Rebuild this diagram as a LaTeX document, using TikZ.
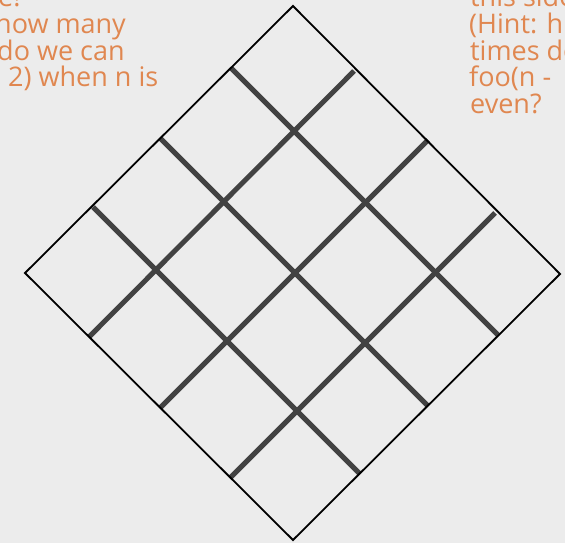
\documentclass[tikz,border=0pt]{standalone}
\usepackage{fontspec}
\setmainfont{Open Sans}
\usepackage{xcolor}
\usetikzlibrary{positioning}

\definecolor{hintorange}{RGB}{224,135,80}
\definecolor{paper}{RGB}{236,236,236}
\definecolor{gridgray}{RGB}{66,66,66}

\begin{document}
\begin{tikzpicture}[
    x=1pt, y=-1pt,
    hint/.style={
        text=hintorange,
        font=\fontsize{27}{26.5}\selectfont,
        anchor=base west,
        inner sep=0pt
    },
    edge/.style={draw=black, line width=1.8pt, line join=miter},
    cut/.style={draw=gridgray, line width=5pt}
]

\useasboundingbox (0,0) rectangle (565,543);
\fill[paper] (0,0) rectangle (565,543);
\clip (0,0) rectangle (565,543);

% hint text on the left, cut by the page
\node[hint] (lefta) at (-2,7) {e!};
\node[hint] (leftb) at (-5,34) {how many};
\node[hint] (leftc) at (-3,60.5) {do we can};
\node[hint] (leftd) at (8,87) {2) when n is};

% hint text on the right, cut by the page
\node[hint] (righta) at (470,7) {this side};
\node[hint] (rightb) at (469,34) {(Hint: h};
\node[hint] (rightc) at (470,60.5) {times do};
\node[hint] (rightd) at (469,87) {foo(n -};
\node[hint] (righte) at (470,113.5) {even?};

% outer square
\coordinate (top) at (293,6);
\coordinate (left) at (25,273);
\coordinate (bottom) at (293,540);
\coordinate (right) at (560,274);

% grid ends on the four sides
\coordinate (nw1) at (231,68);
\coordinate (nw2) at (160,138);
\coordinate (nw3) at (93,207);
\coordinate (se1) at (498,335);
\coordinate (se2) at (428,406);
\coordinate (se3) at (360,474);
\coordinate (sw1) at (89,337);
\coordinate (sw2) at (160,408);
\coordinate (sw3) at (230,478);
\coordinate (ne1) at (354,71);
\coordinate (ne2) at (428,140);
\coordinate (ne3) at (495,213);

\draw[cut] (nw1) -- (se1);
\draw[cut] (nw2) -- (se2);
\draw[cut] (nw3) -- (se3);
\draw[cut] (sw1) -- (ne1);
\draw[cut] (sw2) -- (ne2);
\draw[cut] (sw3) -- (ne3);

\draw[edge] (top) -- (right) -- (bottom) -- (left) -- cycle;

\end{tikzpicture}
\end{document}
